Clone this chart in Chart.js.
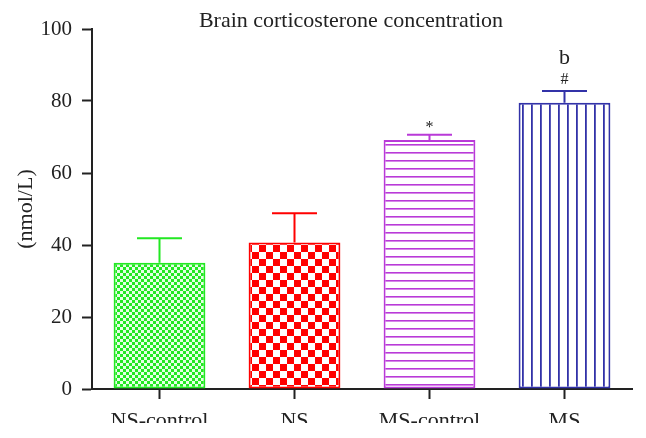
<!DOCTYPE html>
<html>
<head>
<meta charset="utf-8">
<script src="https://cdn.jsdelivr.net/npm/chart.js@4/dist/chart.umd.min.js"></script>
<style>
  html, body { margin: 0; padding: 0; background: #fff; }
  #wrap { width: 646px; height: 438px; position: relative; }
</style>
</head>
<body>
<div id="wrap"><canvas id="chart"></canvas></div>
<script>
// Brain corticosterone concentration

const groups = ['NS-control', 'NS', 'MS-control', 'MS'];
const means = [35.1, 40.7, 69.2, 79.5];
const errors = [6.8, 8.1, 1.4, 3.3];
const marks = ['', '', '*', '#'];
const letters = ['', '', '', 'b'];
const yTicks = [0, 20, 40, 60, 80, 100];
const colors = ['#22e822', '#ff0000', '#b93ad8', '#3232a8'];

const SERIF = '"Liberation Serif", "Times New Roman", serif';
const INK = '#222';

function makePattern(kind, color) {
    const c = document.createElement('canvas');
    const x = c.getContext('2d');
    if (kind === 'fineCheck') {
        c.width = 6; c.height = 6;
        x.fillStyle = '#e4ffe4'; x.fillRect(0, 0, 6, 6);
        x.fillStyle = color;
        x.fillRect(0, 0, 3, 3); x.fillRect(3, 3, 3, 3);
    } else if (kind === 'bigCheck') {
        c.width = 14; c.height = 14;
        x.fillStyle = '#fff'; x.fillRect(0, 0, 14, 14);
        x.fillStyle = color;
        x.fillRect(0, 0, 7, 7); x.fillRect(7, 7, 7, 7);
    } else if (kind === 'hLines') {
        c.width = 8; c.height = 8;
        x.fillStyle = '#fff'; x.fillRect(0, 0, 8, 8);
        x.fillStyle = color; x.fillRect(0, 0, 8, 1.6);
    } else {
        c.width = 9; c.height = 9;
        x.fillStyle = '#fff'; x.fillRect(0, 0, 9, 9);
        x.fillStyle = color; x.fillRect(0, 0, 1.8, 9);
    }
    return document.getElementById('chart').getContext('2d').createPattern(c, 'repeat');
}

const patterns = [
    makePattern('fineCheck', colors[0]),
    makePattern('bigCheck', colors[1]),
    makePattern('hLines', colors[2]),
    makePattern('vLines', colors[3])
];

// error bars (upper half only), significance marks, title, cropped bottom
const extras = {
    id: 'extras',
    afterDatasetsDraw(chart) {
        const ctx = chart.ctx;
        const meta = chart.getDatasetMeta(0);
        const y = chart.scales.y;
        ctx.save();
        meta.data.forEach((bar, i) => {
            const top = y.getPixelForValue(means[i] + errors[i]);
            const half = bar.width * 0.245;
            ctx.strokeStyle = colors[i];
            ctx.lineWidth = 2;
            ctx.beginPath();
            ctx.moveTo(bar.x, bar.y);
            ctx.lineTo(bar.x, top);
            ctx.moveTo(bar.x - half, top);
            ctx.lineTo(bar.x + half, top);
            ctx.stroke();
            ctx.fillStyle = INK;
            ctx.textAlign = 'center';
            ctx.textBaseline = 'middle';
            if (marks[i]) {
                ctx.font = '16px ' + SERIF;
                ctx.fillText(marks[i], bar.x, top - (marks[i] === '*' ? 7 : 11));
            }
            if (letters[i]) {
                ctx.font = '22px ' + SERIF;
                ctx.fillText(letters[i], bar.x, top - 33);
            }
        });
        ctx.restore();
    },
    afterDraw(chart) {
        const ctx = chart.ctx;
        ctx.save();
        ctx.fillStyle = INK;
        ctx.font = '22px ' + SERIF;
        ctx.textAlign = 'center';
        ctx.textBaseline = 'middle';
        ctx.fillText('Brain corticosterone concentration', 351, 21);
        ctx.fillStyle = '#fff';
        ctx.fillRect(0, 423, chart.width, chart.height - 423);
        ctx.restore();
    }
};

new Chart(document.getElementById('chart'), {
    type: 'bar',
    data: {
        labels: groups,
        datasets: [{
            data: means,
            backgroundColor: patterns,
            borderColor: colors,
            borderWidth: 2,
            borderSkipped: false,
            categoryPercentage: 1,
            barPercentage: 0.68
        }]
    },
    options: {
        responsive: true,
        maintainAspectRatio: false,
        animation: false,
        layout: { padding: { top: 29, right: 14, bottom: 0, left: 0 } },
        plugins: { legend: { display: false }, tooltip: { enabled: false } },
        scales: {
            x: {
                grid: { display: true, offset: false, drawOnChartArea: false, drawTicks: true, tickLength: 10, tickWidth: 2, color: INK },
                border: { display: true, color: INK, width: 2 },
                ticks: { color: INK, padding: 9, font: { family: SERIF, size: 22 } },
                afterFit: s => { s.height = 49; }
            },
            y: {
                min: 0, max: 100,
                afterBuildTicks: s => { s.ticks = yTicks.map(v => ({ value: v })); },
                grid: { display: true, drawOnChartArea: false, drawTicks: true, tickLength: 10, tickWidth: 2, color: INK },
                border: { display: true, color: INK, width: 2 },
                ticks: { color: INK, padding: 10, font: { family: SERIF, size: 21 } },
                title: { display: true, text: '(nmol/L)', color: INK, padding: { top: 13, bottom: 0 }, font: { family: SERIF, size: 22 } },
                afterFit: s => { s.width = 92; }
            }
        }
    },
    plugins: [extras]
});
</script>
</body>
</html>
